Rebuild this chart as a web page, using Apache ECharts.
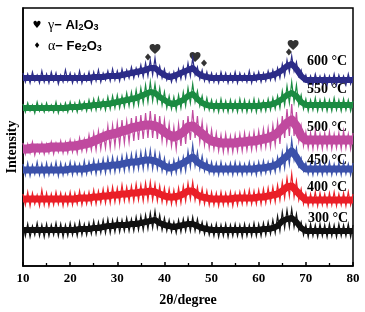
<!DOCTYPE html>
<html>
<head>
<meta charset="utf-8">
<script src="https://cdn.jsdelivr.net/npm/echarts@6/dist/echarts.min.js"></script>
<style>
html, body { margin: 0; padding: 0; background: #fff; }
#xrd { width: 365px; height: 312px; }
</style>
</head>
<body>
<div id="xrd"></div>
<script>
// 2θ sampling: raw scans every 0.5°, band centres every 1°, both from 10°
var startAngle = 10;
var stepAngle = 0.5;
var coreStep = 1;

// raw (noisy) offset intensities, arbitrary units
var i600 = [
  193, 184, 192, 183, 194, 185, 191, 183, 195, 184,
  192, 183, 194, 185, 193, 182, 191, 184, 196, 185,
  193, 183, 192, 184, 195, 183, 192, 185, 194, 183,
  194, 185, 196, 184, 193, 186, 195, 185, 197, 186,
  195, 185, 197, 187, 196, 188, 199, 188, 198, 190,
  201, 189, 203, 190, 206, 191, 208, 190, 200, 188,
  197, 186, 193, 184, 194, 185, 197, 187, 199, 188,
  203, 190, 208, 191, 199, 187, 196, 185, 194, 184,
  193, 184, 192, 183, 194, 185, 193, 183, 192, 184,
  194, 183, 193, 185, 192, 184, 195, 183, 193, 185,
  194, 184, 193, 185, 195, 186, 196, 186, 198, 188,
  202, 190, 206, 194, 210, 195, 204, 190, 196, 185,
  191, 182, 190, 181, 192, 183, 190, 182, 191, 181,
  190, 182, 192, 181, 191, 183, 190, 181, 192, 182,
  190
];
var i550 = [
  162, 154, 163, 155, 161, 153, 164, 155, 162, 154,
  163, 155, 161, 154, 164, 153, 162, 155, 163, 154,
  164, 155, 163, 154, 165, 156, 164, 155, 166, 156,
  167, 156, 168, 157, 166, 156, 169, 157, 170, 158,
  171, 158, 170, 159, 173, 160, 174, 160, 176, 161,
  178, 163, 181, 164, 184, 165, 182, 164, 178, 161,
  174, 158, 170, 157, 169, 156, 171, 158, 174, 160,
  178, 163, 182, 164, 175, 160, 170, 157, 168, 156,
  166, 155, 165, 154, 167, 155, 165, 154, 166, 155,
  165, 154, 167, 155, 166, 154, 165, 155, 167, 154,
  166, 155, 165, 155, 167, 156, 168, 157, 170, 158,
  175, 161, 180, 163, 184, 164, 181, 161, 171, 157,
  167, 155, 166, 156, 168, 155, 166, 156, 167, 155,
  166, 155, 168, 156, 166, 155, 167, 156, 166, 155,
  165
];
var i500 = [
  123, 112, 122, 113, 124, 111, 121, 113, 123, 112,
  122, 113, 124, 112, 123, 114, 125, 113, 124, 113,
  126, 114, 125, 113, 128, 115, 127, 115, 131, 116,
  133, 116, 135, 117, 134, 118, 140, 118, 141, 120,
  143, 121, 146, 123, 145, 124, 148, 125, 150, 126,
  151, 127, 153, 128, 155, 128, 152, 127, 150, 125,
  146, 123, 142, 120, 139, 117, 142, 120, 146, 122,
  150, 126, 156, 128, 150, 124, 144, 121, 139, 118,
  136, 117, 133, 115, 131, 114, 132, 114, 130, 114,
  131, 115, 132, 115, 133, 116, 132, 116, 134, 117,
  135, 118, 137, 119, 138, 119, 141, 121, 144, 122,
  150, 128, 157, 130, 162, 130, 154, 125, 140, 120,
  134, 118, 133, 117, 135, 118, 132, 117, 133, 118,
  134, 117, 132, 118, 133, 117, 135, 118, 132, 117,
  133
];
var i450 = [
  102, 91, 103, 90, 101, 92, 104, 91, 102, 90,
  103, 91, 102, 92, 104, 90, 103, 91, 102, 92,
  104, 91, 103, 92, 102, 91, 105, 92, 104, 93,
  106, 92, 105, 93, 107, 93, 108, 94, 109, 94,
  108, 95, 110, 95, 111, 96, 112, 96, 113, 97,
  114, 97, 115, 98, 116, 97, 114, 97, 112, 95,
  108, 93, 104, 92, 106, 93, 107, 94, 109, 95,
  115, 99, 121, 100, 114, 97, 110, 95, 106, 93,
  104, 92, 103, 91, 104, 92, 102, 92, 103, 91,
  104, 92, 103, 91, 102, 92, 104, 92, 103, 91,
  104, 92, 105, 93, 104, 93, 106, 94, 109, 96,
  114, 98, 119, 102, 126, 106, 118, 100, 108, 95,
  103, 92, 102, 91, 104, 92, 103, 91, 102, 92,
  104, 91, 102, 92, 103, 91, 104, 92, 102, 91,
  103
];
var i400 = [
  72, 61, 74, 60, 73, 62, 71, 60, 76, 61,
  73, 60, 72, 61, 74, 62, 73, 60, 72, 61,
  74, 61, 73, 62, 75, 61, 73, 62, 74, 62,
  76, 62, 75, 63, 77, 63, 78, 63, 79, 64,
  78, 64, 81, 65, 79, 65, 80, 65, 82, 66,
  81, 65, 83, 66, 84, 66, 82, 65, 80, 64,
  78, 63, 77, 62, 76, 62, 78, 63, 80, 65,
  83, 67, 84, 66, 79, 63, 77, 62, 75, 61,
  74, 61, 73, 60, 74, 61, 73, 61, 74, 60,
  73, 61, 74, 62, 75, 62, 76, 62, 75, 62,
  76, 62, 77, 63, 78, 64, 79, 64, 81, 66,
  84, 68, 88, 70, 92, 69, 85, 66, 77, 62,
  73, 60, 72, 61, 74, 60, 73, 61, 72, 60,
  73, 61, 74, 60, 72, 61, 73, 60, 74, 61,
  72
];
var i300 = [
  41, 30, 42, 29, 40, 31, 43, 30, 41, 29,
  42, 30, 41, 31, 43, 30, 42, 29, 41, 30,
  43, 31, 42, 30, 44, 31, 42, 31, 43, 32,
  45, 32, 44, 33, 46, 33, 47, 33, 46, 34,
  47, 34, 46, 35, 48, 35, 47, 35, 49, 36,
  50, 36, 51, 37, 53, 38, 55, 38, 51, 36,
  48, 35, 46, 34, 44, 33, 46, 34, 47, 35,
  48, 35, 49, 35, 47, 34, 44, 32, 43, 31,
  41, 30, 42, 29, 41, 30, 42, 29, 41, 30,
  42, 30, 41, 29, 42, 30, 41, 30, 43, 30,
  42, 30, 43, 31, 44, 32, 46, 33, 50, 35,
  54, 38, 56, 39, 57, 39, 52, 36, 44, 31,
  41, 29, 42, 30, 41, 29, 42, 30, 41, 29,
  42, 30, 41, 29, 42, 30, 41, 30, 42, 29,
  41
];

// band centres (middle of the noise), 10°..80° every 1°
var c600 = [
  188, 188, 188, 188, 188, 188, 188, 188, 188, 188,
  188, 188, 188, 188, 188, 189, 189, 189, 190, 190,
  190, 191, 192, 193, 194, 195, 196, 198, 198, 194,
  191, 189, 190, 192, 194, 196, 198, 193, 190, 189,
  188, 188, 188, 188, 188, 188, 188, 188, 188, 188,
  189, 189, 190, 191, 193, 196, 200, 202, 197, 190,
  186, 186, 186, 186, 186, 186, 186, 186, 186, 186, 186
];
var c550 = [
  158, 158, 158, 158, 158, 158, 158, 158, 158, 158,
  159, 159, 159, 160, 160, 161, 161, 162, 162, 163,
  164, 165, 166, 167, 168, 170, 172, 174, 173, 169,
  166, 163, 162, 164, 166, 170, 172, 167, 163, 161,
  160, 160, 160, 160, 160, 160, 160, 160, 160, 160,
  160, 161, 161, 162, 164, 167, 171, 173, 170, 164,
  161, 161, 161, 161, 161, 161, 161, 161, 161, 161, 161
];
var c500 = [
  117, 117, 118, 118, 118, 118, 119, 119, 119, 119,
  120, 120, 121, 122, 123, 125, 127, 129, 131, 132,
  133, 135, 136, 138, 139, 140, 141, 141, 140, 138,
  134, 131, 129, 131, 134, 139, 140, 136, 132, 128,
  125, 124, 123, 123, 123, 123, 124, 124, 125, 125,
  126, 127, 128, 130, 133, 138, 143, 146, 140, 130,
  126, 126, 126, 126, 126, 126, 126, 126, 126, 126, 126
];
var c450 = [
  96, 96, 96, 96, 96, 96, 96, 96, 96, 96,
  97, 97, 97, 97, 98, 99, 99, 100, 100, 101,
  101, 102, 103, 104, 104, 105, 106, 106, 105, 103,
  100, 98, 99, 101, 103, 106, 109, 104, 101, 99,
  97, 97, 97, 97, 97, 97, 97, 97, 97, 97,
  98, 98, 99, 100, 102, 106, 110, 115, 109, 101,
  97, 97, 97, 97, 97, 97, 97, 97, 97, 97, 97
];
var c400 = [
  67, 67, 67, 67, 67, 67, 67, 67, 67, 67,
  67, 67, 68, 68, 68, 69, 69, 70, 70, 71,
  71, 72, 72, 73, 73, 74, 74, 75, 74, 72,
  70, 69, 69, 70, 72, 75, 75, 71, 69, 68,
  67, 67, 67, 67, 67, 68, 68, 68, 68, 68,
  69, 69, 70, 71, 72, 75, 79, 80, 75, 70,
  66, 66, 66, 66, 66, 66, 66, 66, 66, 66, 66
];
var c300 = [
  36, 36, 36, 36, 36, 36, 36, 36, 36, 36,
  36, 36, 37, 37, 37, 38, 38, 39, 40, 40,
  41, 41, 41, 42, 42, 43, 44, 45, 46, 43,
  41, 40, 39, 40, 41, 42, 42, 40, 38, 37,
  36, 36, 36, 36, 36, 36, 36, 36, 36, 36,
  36, 37, 37, 38, 40, 45, 47, 48, 44, 38,
  35, 35, 35, 35, 35, 35, 35, 35, 35, 35, 35
];

var tempLabels = ['600 °C', '550 °C', '500 °C', '450 °C', '400 °C', '300 °C'];

// phase markers [2θ, height]
var gammaPeaks = [[38.0, 217], [46.5, 209], [67.3, 221]];
var alphaPeaks = [[36.5, 209], [48.4, 203], [66.4, 214]];

var heartPath = 'path://M12 21.4l-1.5-1.3C5.4 15.4 2 12.3 2 8.5 2 5.4 4.4 3 7.5 3c1.7 0 3.4.8 4.5 2.1C13.1 3.8 14.8 3 16.5 3 19.6 3 22 5.4 22 8.5c0 3.8-3.4 6.9-8.5 11.5L12 21.4z';
var serif = 'Liberation Serif';
var sans = 'Liberation Sans';

function toPairs(vals, step) {
  return vals.map(function (v, i) {
    return [startAngle + i * step, v];
  });
}

// one scan = solid core band + the raw noisy trace over it
function scan(raw, core, color, coreWidth) {
  return [
    {
      type: 'line',
      data: toPairs(core, coreStep),
      showSymbol: false,
      lineStyle: { color: color, width: coreWidth, join: 'round' },
      silent: true
    },
    {
      type: 'line',
      data: toPairs(raw, stepAngle),
      showSymbol: false,
      lineStyle: { color: color, width: 1.2, join: 'miter' },
      silent: true
    }
  ];
}

function tempText(i, x, y) {
  return { type: 'text', x: x, y: y, style: { text: tempLabels[i], font: 'bold 14px ' + serif, fill: '#000', verticalAlign: 'middle' } };
}

var subRich = {
  g: { font: '14px ' + serif, fill: '#000' },
  b: { font: 'bold 13px ' + sans, fill: '#000' },
  s: { font: 'bold 9px ' + sans, fill: '#000', verticalAlign: 'bottom', padding: [6, 0, 0, 0] }
};

var myChart = echarts.init(document.getElementById('xrd'));
myChart.setOption({
  animation: false,
  grid: {
    left: 23, right: 12, top: 8, bottom: 46,
    show: true, borderColor: '#000', borderWidth: 1.5
  },
  xAxis: {
    type: 'value',
    min: 10,
    max: 80,
    interval: 10,
    name: '2θ/degree',
    nameLocation: 'middle',
    nameGap: 27,
    nameTextStyle: { color: '#000', fontFamily: serif, fontWeight: 'bold', fontSize: 14 },
    axisLine: { lineStyle: { color: '#000', width: 1.5 } },
    axisTick: { inside: true, length: 4, lineStyle: { color: '#000', width: 1.5 } },
    minorTick: { show: true, splitNumber: 2, length: 3, lineStyle: { color: '#000', width: 1.3 } },
    splitLine: { show: false },
    axisLabel: { color: '#000', fontFamily: serif, fontWeight: 'bold', fontSize: 13, margin: 6 }
  },
  yAxis: {
    type: 'value',
    min: 0,
    max: 258,
    axisLine: { show: true, lineStyle: { color: '#000', width: 1.5 } },
    axisTick: { show: false },
    axisLabel: { show: false },
    splitLine: { show: false }
  },
  series: [].concat(
    scan(i300, c300, '#111111', 6),
    scan(i400, c400, '#ea1f28', 7),
    scan(i450, c450, '#3b51aa', 7),
    scan(i500, c500, '#c04a9f', 9),
    scan(i550, c550, '#1b8b42', 6),
    scan(i600, c600, '#2c2c88', 6),
    [
      {
        type: 'scatter',
        data: gammaPeaks,
        symbol: heartPath,
        symbolSize: [11, 10],
        itemStyle: { color: '#000' },
        silent: true
      },
      {
        type: 'scatter',
        data: alphaPeaks,
        symbol: 'diamond',
        symbolSize: [6, 7],
        itemStyle: { color: '#000' },
        silent: true
      }
    ]
  ),
  graphic: [
    tempText(0, 307, 61),
    tempText(1, 307, 89),
    tempText(2, 307, 127),
    tempText(3, 307, 160),
    tempText(4, 307, 187),
    tempText(5, 308, 218),
    // y axis title
    {
      type: 'text', x: 12, y: 147, rotation: Math.PI / 2,
      style: { text: 'Intensity', font: 'bold 14px ' + serif, fill: '#000', align: 'center', verticalAlign: 'middle' }
    },
    // phase key
    { type: 'text', x: 37, y: 25, style: { text: '♥', font: '10px "DejaVu Sans"', fill: '#000', align: 'center', verticalAlign: 'middle' } },
    { type: 'text', x: 48, y: 25, style: { text: '{g|γ}{b|− Al}{s|2}{b|O}{s|3}', verticalAlign: 'middle', rich: subRich } },
    { type: 'text', x: 37, y: 46, style: { text: '♦', font: '8px "DejaVu Sans"', fill: '#000', align: 'center', verticalAlign: 'middle' } },
    { type: 'text', x: 48, y: 46, style: { text: '{g|α}{b|− Fe}{s|2}{b|O}{s|3}', verticalAlign: 'middle', rich: subRich } }
  ]
});
</script>
</body>
</html>
